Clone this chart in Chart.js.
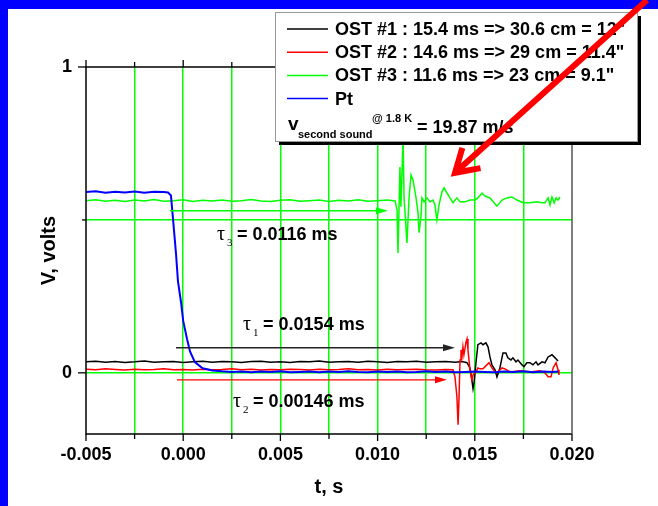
<!DOCTYPE html>
<html>
<head>
<meta charset="utf-8">
<title>Second sound OST signals</title>
<script src="https://cdn.jsdelivr.net/npm/chart.js@4.4.1/dist/chart.umd.min.js"></script>
<style>
  html, body { margin: 0; padding: 0; background: #fff; overflow: hidden; }
  canvas { display: block; }
</style>
</head>
<body>
<canvas id="chart" width="658" height="506"></canvas>
<script>
// time in seconds, signal in volts
const ost1Time = [-0.005, -0.0045, -0.004, -0.0035, -0.003, -0.0025, -0.002, -0.0015, -0.001, -0.0005,
  0, 0.0005, 0.001, 0.0015, 0.002, 0.0025, 0.003, 0.0035, 0.004, 0.0045,
  0.005, 0.0055, 0.006, 0.0065, 0.007, 0.0075, 0.008, 0.0085, 0.009, 0.0095,
  0.01, 0.0105, 0.011, 0.0115, 0.012, 0.0125, 0.013, 0.0135, 0.014,
  0.01424, 0.01439, 0.0146, 0.01475, 0.01485, 0.01491, 0.01496, 0.01506, 0.01516, 0.01532,
  0.01542, 0.01557, 0.01568, 0.01578, 0.01588, 0.01604, 0.01614, 0.01629, 0.01645, 0.0166,
  0.0167, 0.01686, 0.01696, 0.01712, 0.01722, 0.01743, 0.01753, 0.01768, 0.01784, 0.01799,
  0.01815, 0.01825, 0.01846, 0.01861, 0.01877, 0.01897, 0.01913, 0.01928];
const ost1Volts = [0.036, 0.038, 0.035, 0.037, 0.034, 0.036, 0.039, 0.035, 0.036, 0.037,
  0.034, 0.036, 0.038, 0.035, 0.037, 0.036, 0.034, 0.037, 0.038, 0.035,
  0.036, 0.034, 0.037, 0.036, 0.039, 0.035, 0.036, 0.037, 0.035, 0.038,
  0.036, 0.034, 0.037, 0.036, 0.038, 0.035, 0.036, 0.037, 0.035,
  0.036, 0.036, 0.033, 0.016, -0.023, -0.052, -0.033, 0.033, 0.092, 0.098,
  0.092, 0.098, 0.085, 0.052, 0.026, 0.010, -0.013, 0.016, 0.065, 0.065,
  0.049, 0.042, 0.049, 0.036, 0.042, 0.026, 0.020, 0.033, 0.033, 0.026,
  0.036, 0.026, 0.036, 0.033, 0.052, 0.059, 0.049, 0.039];

const ost2Time = [-0.005, -0.0045, -0.004, -0.0035, -0.003, -0.0025, -0.002, -0.0015, -0.001, -0.0005,
  0, 0.0005, 0.001, 0.0015, 0.002, 0.0025, 0.003, 0.0035, 0.004, 0.0045,
  0.005, 0.0055, 0.006, 0.0065, 0.007, 0.0075, 0.008, 0.0085, 0.009, 0.0095,
  0.01, 0.0105, 0.011, 0.0115, 0.012, 0.0125, 0.013, 0.0135,
  0.01388, 0.01398, 0.01408, 0.01414, 0.01419, 0.01424, 0.01429, 0.01434, 0.01439, 0.01444,
  0.01455, 0.0146, 0.01465, 0.01475, 0.01485, 0.01491, 0.01506, 0.01516, 0.01527, 0.01542,
  0.01562, 0.01573, 0.01588, 0.01604, 0.01614, 0.0164, 0.01655, 0.01681, 0.01732, 0.01784,
  0.01835, 0.01861, 0.01877, 0.01892, 0.01903, 0.01918, 0.01928, 0.01933];
const ost2Volts = [0.012, 0.010, 0.013, 0.011, 0.009, 0.012, 0.010, 0.011, 0.013, 0.010,
  0.011, 0.009, 0.012, 0.010, 0.011, 0.013, 0.010, 0.012, 0.009, 0.011,
  0.010, 0.012, 0.011, 0.009, 0.012, 0.010, 0.011, 0.013, 0.010, 0.011,
  0.009, 0.012, 0.010, 0.011, 0.012, 0.010, 0.009, 0.011,
  0.010, -0.013, -0.078, -0.170, -0.078, 0.042, 0.075, 0.052, 0.085, 0.059,
  0.101, 0.111, 0.075, 0.010, -0.023, -0.007, 0.003, 0.016, 0.013, 0.013,
  0.026, 0.033, 0.016, 0.003, 0.000, 0.016, 0.013, 0.003, 0.007, 0.003,
  0.007, 0.000, -0.013, -0.013, 0.016, 0.033, 0.010, -0.007];

const ost3Time = [-0.005, -0.0045, -0.004, -0.0035, -0.003, -0.0025, -0.002, -0.0015, -0.001, -0.0005,
  0, 0.0005, 0.001, 0.0015, 0.002, 0.0025, 0.003, 0.0035, 0.004, 0.0045,
  0.005, 0.0055, 0.006, 0.0065, 0.007, 0.0075, 0.008, 0.0085, 0.009, 0.0095,
  0.01, 0.0105,
  0.0109, 0.011, 0.01105, 0.01115, 0.0112, 0.01131, 0.01136, 0.01151, 0.01162, 0.01172,
  0.01182, 0.01197, 0.01208, 0.01213, 0.01223, 0.01228, 0.01239, 0.01254, 0.01269, 0.01285,
  0.01295, 0.01305, 0.01316, 0.01331, 0.01342, 0.01357, 0.01372, 0.01388, 0.01408, 0.01424,
  0.01449, 0.01475, 0.01501, 0.01516, 0.01537, 0.01552, 0.01578, 0.01614, 0.0164, 0.01665,
  0.01691, 0.01717, 0.01748, 0.01784, 0.0182, 0.01846, 0.01861, 0.01877, 0.01887, 0.01897,
  0.01908, 0.01918, 0.01928, 0.01938];
const ost3Volts = [0.563, 0.566, 0.561, 0.564, 0.560, 0.565, 0.562, 0.567, 0.561, 0.563,
  0.566, 0.560, 0.564, 0.562, 0.565, 0.561, 0.563, 0.567, 0.562, 0.560,
  0.564, 0.566, 0.561, 0.563, 0.565, 0.560, 0.564, 0.562, 0.566, 0.561,
  0.563, 0.565,
  0.562, 0.533, 0.392, 0.673, 0.543, 0.770, 0.575, 0.425, 0.575, 0.647,
  0.631, 0.575, 0.523, 0.458, 0.510, 0.572, 0.559, 0.572, 0.559, 0.565,
  0.549, 0.500, 0.549, 0.592, 0.605, 0.588, 0.572, 0.556, 0.572, 0.559,
  0.559, 0.565, 0.565, 0.572, 0.588, 0.578, 0.572, 0.545, 0.565, 0.572,
  0.575, 0.565, 0.556, 0.556, 0.559, 0.556, 0.556, 0.572, 0.549, 0.575,
  0.556, 0.572, 0.565, 0.575];

const ptTime = [-0.005, -0.0045, -0.004, -0.0035, -0.003, -0.0025, -0.002, -0.0015, -0.001,
  -0.00078, -0.00063, -0.00052, -0.00037, -0.00027, -0.00011, 0, 0.0002, 0.00035, 0.0006,
  0.001, 0.0015,
  0.002, 0.0025, 0.003, 0.0035, 0.004, 0.0045, 0.005, 0.0055, 0.006, 0.0065,
  0.007, 0.0075, 0.008, 0.0085, 0.009, 0.0095, 0.01, 0.0105, 0.011, 0.0115,
  0.012, 0.0125, 0.013, 0.0135, 0.014, 0.0145, 0.015, 0.0155, 0.016, 0.0165,
  0.017, 0.0175, 0.018, 0.0185, 0.019, 0.0193];
const ptVolts = [0.591, 0.594, 0.589, 0.592, 0.590, 0.593, 0.589, 0.592, 0.591,
  0.590, 0.580, 0.500, 0.390, 0.300, 0.230, 0.170, 0.110, 0.070, 0.035,
  0.015, 0.008,
  0.005, 0.003, 0.004, 0.002, 0.004, 0.003, 0.005, 0.002, 0.003, 0.004,
  0.002, 0.004, 0.003, 0.005, 0.003, 0.002, 0.004, 0.003, 0.004, 0.002,
  0.003, 0.005, 0.003, 0.004, 0.002, 0.003, 0.004, 0.003, 0.002, 0.004,
  0.003, 0.005, 0.002, 0.004, 0.003, 0.004];

const seriesLabels = [
  'OST #1 : 15.4 ms => 30.6 cm = 12"',
  'OST #2 : 14.6 ms => 29 cm = 11.4"',
  'OST #3 : 11.6 ms => 23 cm = 9.1"',
  'Pt'
];
const seriesColors = ['#000000', '#ff0000', '#00ff00', '#0000ff'];

// arrival-delay arrows and their labels (OST #1, #2, #3)
const delayStart = [-0.00037, -0.00032, -0.00068];
const delayEnd = [0.01398, 0.01357, 0.01053];
const delayLevel = [0.082, -0.023, 0.530];
const delayText = ['0.0154 ms', '0.00146 ms', '0.0116 ms'];
const delaySub = ['1', '2', '3'];
const delayLabelTime = [0.00308, 0.00256, 0.00174];
const delayLabelVolts = [0.157, -0.095, 0.451];
const delayColors = ['#222222', '#ff0000', '#00ff00'];

// big pointer towards the OST #3 signal
const pointerTail = [0.02386, 1.219];
const pointerTip = [0.01398, 0.654];

const xTicks = [-0.005, -0.0025, 0, 0.0025, 0.005, 0.0075, 0.01, 0.0125, 0.015, 0.0175, 0.02];
const xLabelTicks = [-0.005, 0, 0.005, 0.01, 0.015, 0.02];
const yTicks = [0, 0.5, 1];
const yLabelTicks = [0, 1];

const SANS = '"Liberation Sans", Arial, sans-serif';
const SERIF = '"Liberation Serif", "Times New Roman", serif';

function toPoints(times, volts) {
  return times.map((t, i) => ({ x: t, y: volts[i] }));
}

function arrowRight(ctx, x0, x1, y, color) {
  ctx.strokeStyle = color;
  ctx.fillStyle = color;
  ctx.lineWidth = 1.3;
  ctx.beginPath();
  ctx.moveTo(x0, y);
  ctx.lineTo(x1 - 8, y);
  ctx.stroke();
  ctx.beginPath();
  ctx.moveTo(x1, y);
  ctx.lineTo(x1 - 12, y - 3.5);
  ctx.lineTo(x1 - 12, y + 3.5);
  ctx.closePath();
  ctx.fill();
}

const decorations = {
  id: 'decorations',
  beforeDraw(chart) {
    const { ctx, width, height } = chart;
    ctx.save();
    ctx.fillStyle = '#ffffff';
    ctx.fillRect(0, 0, width, height);
    ctx.fillStyle = '#0000ff';
    ctx.fillRect(0, 0, width, 9);
    ctx.fillRect(0, 0, 8, height);
    ctx.restore();
  },
  afterDatasetsDraw(chart) {
    const { ctx, chartArea: area } = chart;
    const xs = chart.scales.x;
    const ys = chart.scales.y;
    ctx.save();

    // frame
    ctx.lineWidth = 1.5;
    ctx.strokeStyle = '#000';
    ctx.beginPath();
    ctx.moveTo(area.right, area.top);
    ctx.lineTo(area.left, area.top);
    ctx.lineTo(area.left, area.bottom);
    ctx.lineTo(area.right, area.bottom);
    ctx.stroke();
    ctx.strokeStyle = '#555';
    ctx.beginPath();
    ctx.moveTo(area.right, area.top);
    ctx.lineTo(area.right, area.bottom);
    ctx.stroke();

    // tick marks, top and bottom mirrored
    ctx.strokeStyle = '#000';
    ctx.lineWidth = 1.3;
    xTicks.forEach((v) => {
      const px = xs.getPixelForValue(v);
      const len = xLabelTicks.includes(v) ? 7 : 5;
      ctx.beginPath();
      ctx.moveTo(px, area.bottom);
      ctx.lineTo(px, area.bottom + len);
      ctx.moveTo(px, area.top);
      ctx.lineTo(px, area.top - len);
      ctx.stroke();
    });
    yTicks.forEach((v) => {
      const py = ys.getPixelForValue(v);
      const len = yLabelTicks.includes(v) ? 8 : 4;
      ctx.beginPath();
      ctx.moveTo(area.left - len, py);
      ctx.lineTo(area.left, py);
      ctx.stroke();
    });

    // delay arrows and tau labels
    delayText.forEach((text, i) => {
      const y = ys.getPixelForValue(delayLevel[i]);
      arrowRight(ctx, xs.getPixelForValue(delayStart[i]), xs.getPixelForValue(delayEnd[i]), y, delayColors[i]);

      const lx = xs.getPixelForValue(delayLabelTime[i]);
      const ly = ys.getPixelForValue(delayLabelVolts[i]);
      ctx.fillStyle = '#000';
      ctx.textAlign = 'left';
      ctx.textBaseline = 'alphabetic';
      ctx.font = '20px ' + SERIF;
      ctx.fillText('τ', lx, ly + 5);
      ctx.font = '11px ' + SERIF;
      ctx.fillText(delaySub[i], lx + 10, ly + 11);
      ctx.font = 'bold 18px ' + SANS;
      ctx.textBaseline = 'middle';
      ctx.fillText('= ' + text, lx + 20, ly);
    });

    // legend box with drop shadow
    const bx = 275, by = 12, bw = 362, bh = 129;
    ctx.fillStyle = '#000';
    ctx.fillRect(bx + 4, by + 4, bw, bh);
    ctx.fillStyle = '#fff';
    ctx.fillRect(bx, by, bw, bh);
    ctx.strokeStyle = '#999';
    ctx.lineWidth = 1;
    ctx.strokeRect(bx + 0.5, by + 0.5, bw, bh);

    chart.data.datasets.forEach((ds, i) => {
      const ry = by + 17 + i * 23.2;
      ctx.strokeStyle = ds.borderColor;
      ctx.lineWidth = 1.5;
      ctx.beginPath();
      ctx.moveTo(bx + 12, ry);
      ctx.lineTo(bx + 53, ry);
      ctx.stroke();
      ctx.fillStyle = '#000';
      ctx.font = 'bold 18px ' + SANS;
      ctx.textAlign = 'left';
      ctx.textBaseline = 'middle';
      ctx.fillText(ds.label, bx + 60, ry + 1);
    });

    ctx.textBaseline = 'alphabetic';
    ctx.font = 'bold 19px ' + SANS;
    ctx.fillText('v', bx + 13, by + 118);
    ctx.font = 'bold 11px ' + SANS;
    ctx.fillText('second sound', bx + 23, by + 126);
    ctx.fillText('@ 1.8 K', bx + 97, by + 110);
    ctx.font = 'bold 18px ' + SANS;
    ctx.fillText('= 19.87 m/s', bx + 142, by + 121);

    // red pointer
    const tipX = xs.getPixelForValue(pointerTip[0]);
    const tipY = ys.getPixelForValue(pointerTip[1]);
    const tailX = xs.getPixelForValue(pointerTail[0]);
    const tailY = ys.getPixelForValue(pointerTail[1]);
    const ang = Math.atan2(tailY - tipY, tailX - tipX);
    ctx.strokeStyle = '#ff0000';
    ctx.lineWidth = 6;
    ctx.lineJoin = 'miter';
    ctx.beginPath();
    ctx.moveTo(tailX, tailY);
    ctx.lineTo(tipX + 3 * Math.cos(ang), tipY + 3 * Math.sin(ang));
    ctx.stroke();
    ctx.beginPath();
    ctx.moveTo(tipX + 26 * Math.cos(ang - 0.55), tipY + 26 * Math.sin(ang - 0.55));
    ctx.lineTo(tipX, tipY);
    ctx.lineTo(tipX + 26 * Math.cos(ang + 0.55), tipY + 26 * Math.sin(ang + 0.55));
    ctx.stroke();

    ctx.restore();
  }
};

new Chart(document.getElementById('chart'), {
  type: 'line',
  data: {
    datasets: [
      { label: seriesLabels[0], data: toPoints(ost1Time, ost1Volts), borderColor: seriesColors[0], order: 3 },
      { label: seriesLabels[1], data: toPoints(ost2Time, ost2Volts), borderColor: seriesColors[1], order: 2 },
      { label: seriesLabels[2], data: toPoints(ost3Time, ost3Volts), borderColor: seriesColors[2], order: 1 },
      { label: seriesLabels[3], data: toPoints(ptTime, ptVolts), borderColor: seriesColors[3], order: 0, borderWidth: 2 }
    ]
  },
  options: {
    responsive: false,
    animation: false,
    events: [],
    layout: { padding: { left: 0, top: 67, right: 86, bottom: 0 } },
    elements: {
      point: { radius: 0 },
      line: { borderWidth: 1.5, tension: 0, fill: false }
    },
    plugins: { legend: { display: false }, tooltip: { enabled: false } },
    scales: {
      x: {
        type: 'linear',
        min: -0.005,
        max: 0.02,
        afterBuildTicks: (scale) => { scale.ticks = xTicks.map((v) => ({ value: v })); },
        afterFit: (scale) => { scale.height = 72; },
        ticks: {
          autoSkip: false,
          maxRotation: 0,
          padding: 10,
          color: '#000',
          font: { family: SANS, size: 18, weight: 'bold' },
          callback: (v) => (xLabelTicks.includes(v) ? v.toFixed(3) : '')
        },
        grid: {
          drawTicks: false,
          lineWidth: 1.5,
          color: (c) => (c.tick && (c.tick.value === -0.005 || c.tick.value === 0.02) ? 'rgba(0,0,0,0)' : '#00ff00')
        },
        border: { display: false },
        title: {
          display: true,
          text: 't, s',
          color: '#000',
          font: { family: SANS, size: 20, weight: 'bold' },
          padding: { top: 0, bottom: 7 }
        }
      },
      y: {
        min: -0.2,
        max: 1,
        afterBuildTicks: (scale) => { scale.ticks = yTicks.map((v) => ({ value: v })); },
        afterFit: (scale) => { scale.width = 86; },
        ticks: {
          padding: 14,
          color: '#000',
          font: { family: SANS, size: 18, weight: 'bold' },
          callback: (v) => (yLabelTicks.includes(v) ? String(v) : '')
        },
        grid: {
          drawTicks: false,
          lineWidth: 1.5,
          color: (c) => (c.tick && c.tick.value === 1 ? 'rgba(0,0,0,0)' : '#00ff00')
        },
        border: { display: false },
        title: {
          display: true,
          text: 'V, volts',
          color: '#000',
          font: { family: SANS, size: 20, weight: 'bold' },
          padding: { top: 37, bottom: 0 }
        }
      }
    }
  },
  plugins: [decorations]
});
</script>
</body>
</html>
